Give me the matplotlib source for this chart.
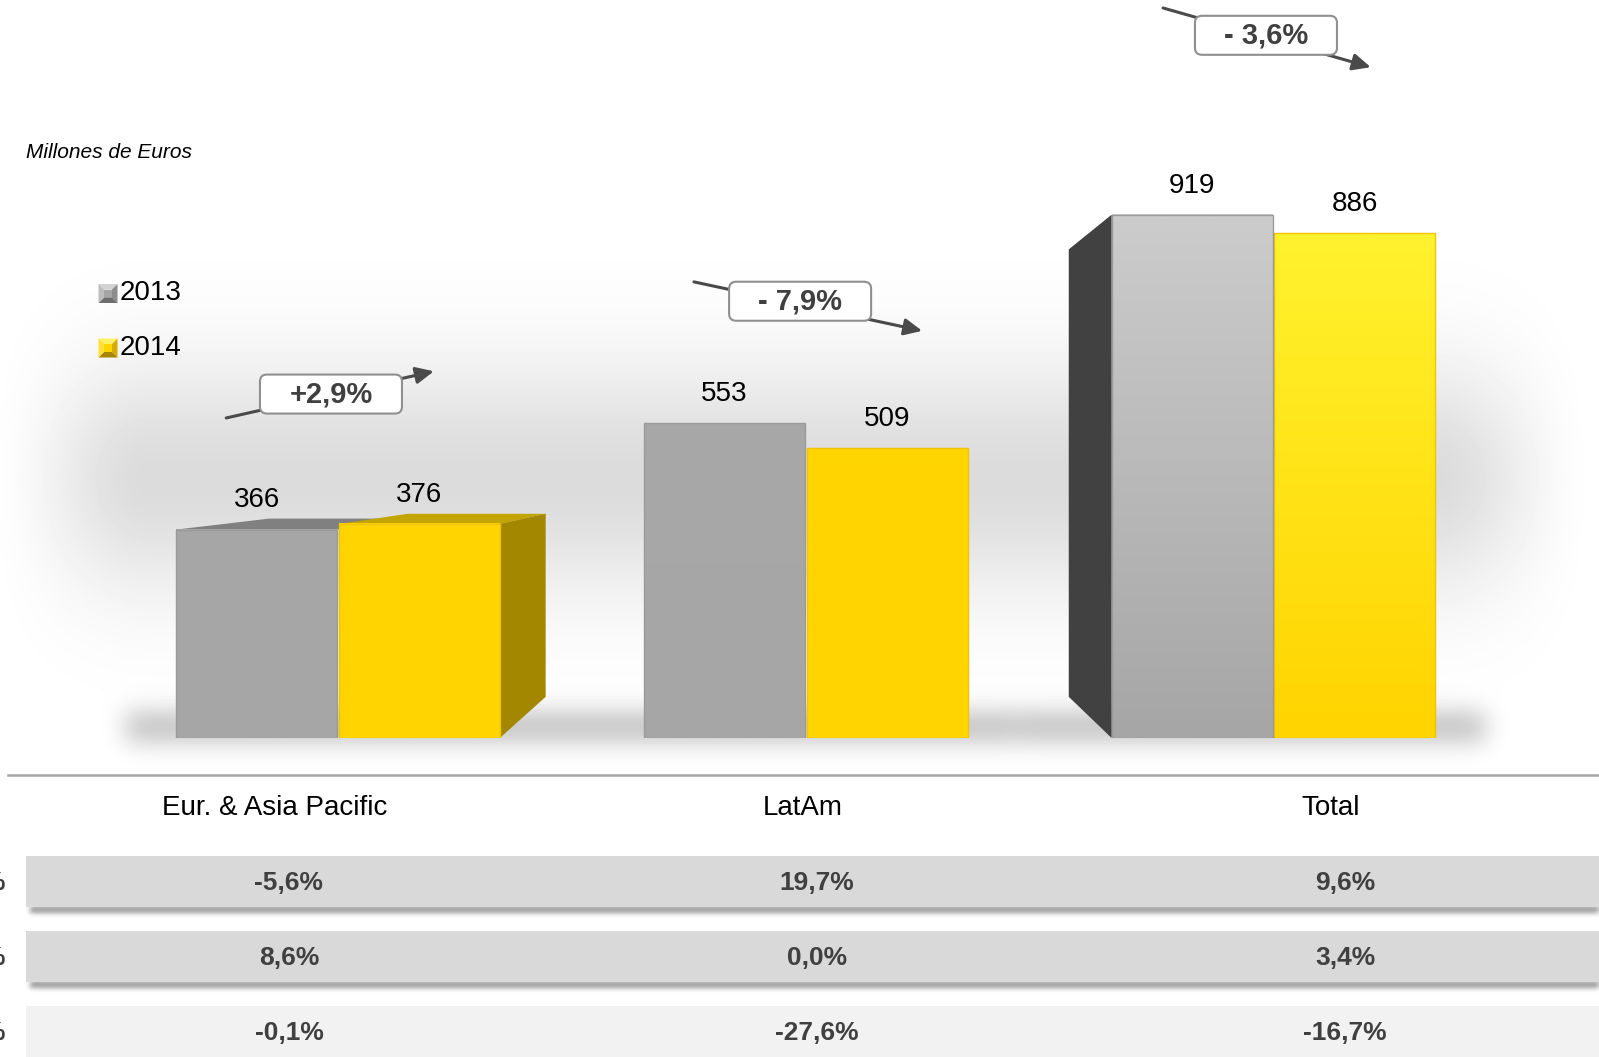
import numpy as np
import matplotlib.pyplot as plt
from matplotlib.patches import Rectangle, Polygon, FancyBboxPatch
from matplotlib.colors import to_rgb
from matplotlib.transforms import blended_transform_factory

plt.rcParams['font.family'] = ['Liberation Sans', 'DejaVu Sans']

# datos
categories = ['Eur. & Asia Pacific', 'LatAm', 'Total']
years = ['2013', '2014']
v2013 = [366, 553, 919]
v2014 = [376, 509, 886]
changes = ['+2,9%', '- 7,9%', '- 3,6%']
row_a = ['-5,6%', '19,7%', '9,6%']
row_b = ['8,6%', '0,0%', '3,4%']
row_c = ['-0,1%', '-27,6%', '-16,7%']

W, H = 1599, 1057
fig = plt.figure(figsize=(W / 100, H / 100), dpi=100)

bg = fig.add_axes([0, 0, 1, 1])
bg.set_xlim(0, W)
bg.set_ylim(H, 0)
bg.axis('off')

ax = fig.add_axes([0, 319 / H, 1, 738 / H])
ax.axis('off')
tab = fig.add_axes([0, 0, 1, 287 / H])
tab.axis('off')

# estilo de las barras
x = np.arange(len(categories))
bw, off = 0.344, 0.174
series = [v2013, v2014]
fronts = ['#a6a6a6', '#ffd400']
highs = ['#cccccc', '#fff22e']
tops = ['#808080', '#c4a400']
sides = ['#414141', '#a38700']
edges = ['#9a9a9a', '#f0c400']

VX, VY, S = 1.022, 498.7, 0.855  # punto de fuga del efecto 3D


def back(px, py):
    return VX + S * (px - VX), VY + S * (py - VY)


bars = []
for k, vals in enumerate(series):
    bc = ax.bar(x + (2 * k - 1) * off, vals, bw, color=fronts[k], linewidth=0)
    for r in bc:
        bars.append((k, r))

# pintar de la barra mas lejana a la mas cercana
order = sorted(bars, key=lambda t: -abs(t[1].get_x() + bw / 2 - VX))
for rank, (k, r) in enumerate(order):
    z = 2 + rank
    x0, h = r.get_x(), r.get_height()
    x1 = x0 + r.get_width()
    if h < VY:
        ax.add_patch(Polygon([(x0, h), (x1, h), back(x1, h), back(x0, h)],
                             closed=True, fc=tops[k], ec='none', zorder=z))
    if k == 1 and x1 < VX:
        ax.add_patch(Polygon([(x1, 0), (x1, h), back(x1, h), back(x1, 0)],
                             closed=True, fc=sides[k], ec='none', zorder=z))
    if k == 0 and x0 > VX:
        ax.add_patch(Polygon([(x0, 0), (x0, h), back(x0, h), back(x0, 0)],
                             closed=True, fc=sides[k], ec='none', zorder=z))
    r.set_zorder(z + 0.1)
    t = (h / max(series[k])) ** 6
    c0, c1 = np.array(to_rgb(fronts[k])), np.array(to_rgb(highs[k]))
    f = np.linspace(0, 1, 64)[:, None]
    grad = (c0 + (c1 - c0) * t * f)[:, None, :]
    ax.imshow(grad, extent=(x0, x1, 0, h), origin='lower', aspect='auto',
              interpolation='bilinear', zorder=z + 0.2)
    ax.add_patch(Rectangle((x0, 0), x1 - x0, h, fc='none', ec=edges[k],
                           lw=1.0, zorder=z + 0.3))

ax.set_xlim(-0.7226, 2.696)
ax.set_ylim(0, 1296)

# etiquetas de valor
for k, vals in enumerate(series):
    for i, v in enumerate(vals):
        ax.annotate(f'{v}', (i + (2 * k - 1) * off, v), xytext=(0, 21),
                    textcoords='offset points', ha='center', va='center',
                    fontsize=20, color='black', zorder=20)

# variaciones con flecha
box_xy = [(-0.015, 604), (0.988, 767), (1.984, 1234)]
arr_from = [(-0.239, 562), (0.761, 801), (1.764, 1282)]
arr_to = [(0.205, 644), (1.249, 715), (2.208, 1178)]
bx_w, bx_h = 0.3036, 68.5
for i, txt in enumerate(changes):
    ax.annotate('', xy=arr_to[i], xytext=arr_from[i], zorder=25,
                arrowprops=dict(arrowstyle='-|>,head_length=0.9,head_width=0.42',
                                mutation_scale=12, lw=2.2, color='#4a4a4a',
                                shrinkA=0, shrinkB=0))
    cx, cy = box_xy[i]
    ax.add_patch(FancyBboxPatch((cx - bx_w / 2, cy - bx_h / 2), bx_w, bx_h,
                                boxstyle='round,pad=0,rounding_size=0.015',
                                mutation_aspect=821, fc='white', ec='#8f8f8f',
                                lw=1.5, zorder=26))
    ax.text(cx, cy, txt, ha='center', va='center', fontsize=21,
            fontweight='bold', color='#404040', zorder=27)

# leyenda
def bevel_marker(cx, cy, s, face, top, left, right, bottom):
    hs, ins = s / 2, s * 0.3
    o = [(cx - hs, cy - hs), (cx + hs, cy - hs), (cx + hs, cy + hs), (cx - hs, cy + hs)]
    n = [(cx - hs + ins, cy - hs + ins), (cx + hs - ins, cy - hs + ins),
         (cx + hs - ins, cy + hs - ins), (cx - hs + ins, cy + hs - ins)]
    for a, b, c in [(0, 1, top), (1, 2, right), (2, 3, bottom), (3, 0, left)]:
        bg.add_patch(Polygon([o[a], o[b], n[b], n[a]], closed=True, fc=c, ec='none'))
    bg.add_patch(Polygon(n, closed=True, fc=face, ec='none'))


leg_y = [293.5, 348]
leg_cols = [('#a6a6a6', '#d2d2d2', '#bdbdbd', '#8c8c8c', '#6e6e6e'),
            ('#ffd400', '#fff066', '#ffe033', '#d4ad00', '#a68600')]
for k, lab in enumerate(years):
    bevel_marker(108, leg_y[k], 19, *leg_cols[k])
    bg.text(120, leg_y[k], lab, fontsize=20, va='center', ha='left')

bg.text(25.5, 153, 'Millones de Euros', fontsize=15, style='italic',
        va='center', ha='left')

# tabla inferior
tab.set_xlim(-0.5473, 2.481)
tab.set_ylim(2.34, -1.487)
tab.axhline(-1.42, xmin=8 / W, xmax=1, color='#a6a6a6', lw=1.8)
for j, c in enumerate(categories):
    tab.text(j - 0.027, -0.98, c, fontsize=20, ha='center', va='center')

row_fills = ['#d9d9d9', '#d9d9d9', '#f2f2f2']
blend = blended_transform_factory(tab.transAxes, tab.transData)
for i, vals in enumerate([row_a, row_b, row_c]):
    tab.add_patch(Rectangle((-0.499, i - 0.3467), 3.2, 0.693, fc=row_fills[i],
                            ec='none'))
    for j, s in enumerate(vals):
        tab.text(j, i + 0.02, s, fontsize=19, fontweight='bold', color='#404040',
                 ha='center', va='center')
    # la etiqueta de fila queda fuera del borde izquierdo
    tab.text(5 / W, i + 0.02, '%', transform=blend, fontsize=19,
             fontweight='bold', color='#404040', ha='right', va='center')


# fondo: halo gris, sombras de barras y de filas
def blur(a, s):
    r = int(3 * s)
    k = np.exp(-0.5 * (np.arange(-r, r + 1) / s) ** 2)
    k /= k.sum()
    a = np.apply_along_axis(lambda m: np.convolve(m, k, mode='same'), 0, a)
    return np.apply_along_axis(lambda m: np.convolve(m, k, mode='same'), 1, a)


def to_px(axes, px, py):
    dx, dy = axes.transData.transform((px, py))
    return int(round(dx)), int(round(H - dy))


yy, xx = np.mgrid[0:H, 0:W]
tt = np.clip((810 - np.abs(xx - 790)) / 170, 0, 1)
glow = 0.14 * np.exp(-0.5 * ((yy - 478) / 82) ** 2) * (3 * tt ** 2 - 2 * tt ** 3)

mask = np.zeros((H, W))
for i in x:
    g0 = i - off - bw / 2
    g1 = i + off + bw / 2
    xl, base = to_px(ax, min(g0, back(g0, 0)[0]), 0)
    xr, _ = to_px(ax, max(g1, back(g1, 0)[0]), 0)
    mask[base - 26:base + 4, max(xl - 50, 0):min(xr + 50, W)] = 1
shade = 0.24 * blur(mask, 12)

rmask = np.zeros((H, W))
for i in range(2):
    rx, rb = to_px(tab, -0.499, i + 0.3467)
    rmask[rb - 2:rb + 5, rx + 4:] = 1
rshade = 0.4 * blur(rmask, 2.5)

img = np.clip(1 - glow - shade - rshade, 0, 1)
bg.imshow(img, cmap='gray', vmin=0, vmax=1, extent=(0, W, H, 0),
          interpolation='bilinear', aspect='auto', zorder=0)
bg.set_xlim(0, W)
bg.set_ylim(H, 0)

fig.savefig('out.png', dpi=100)
